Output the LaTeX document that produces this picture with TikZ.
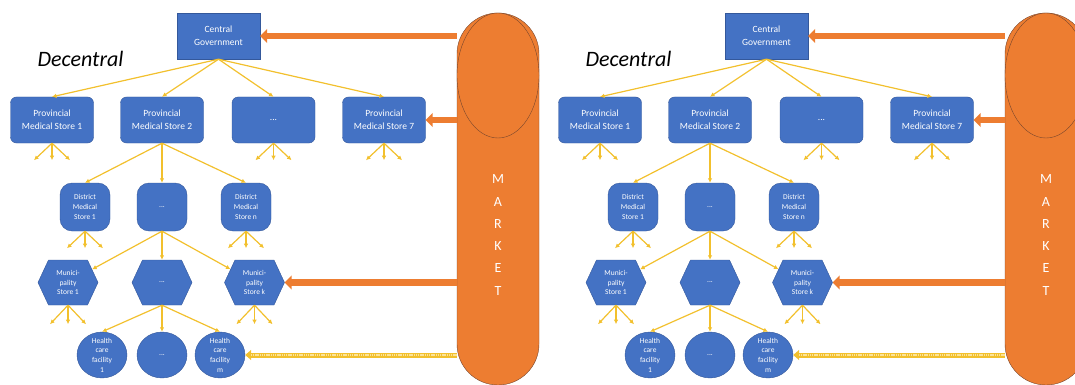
\documentclass[tikz,border=0pt]{standalone}
\usepackage{fontspec}
\setmainfont{Carlito}
\usetikzlibrary{shapes.geometric,shapes.symbols,arrows.meta}

\definecolor{bleu}{RGB}{68,114,196}
\definecolor{bleubord}{RGB}{52,88,155}
\definecolor{mktorange}{RGB}{237,125,49}
\definecolor{mktedge}{RGB}{120,70,45}
\definecolor{linkgold}{RGB}{242,192,45}
\definecolor{supplylight}{RGB}{252,226,150}

% three short arrows under a node
\newcommand{\fanout}[2]{%
  \foreach \a/\i in {-18/1,0/2,18/3}{%
    \path (#1.south) ++(\a,#2) coordinate (#1f\i);
    \draw[link] (#1.south) -- (#1f\i);
  }}

\begin{document}
\begin{tikzpicture}[x=1pt,y=-1pt]
      \tikzstyle{blok}=[draw=bleubord, line width=0.4pt, fill=bleu, text=white, align=center, inner sep=1pt]
      \tikzstyle{prov}=[blok, rounded corners=6pt, minimum width=83pt, minimum height=46pt, font=\fontsize{9.5}{12.6}\selectfont]
      \tikzstyle{dist}=[blok, rounded corners=12pt, minimum width=50pt, minimum height=48pt, font=\fontsize{7.5}{9.8}\selectfont]
      \tikzstyle{muni}=[blok, signal, signal to=east and west, signal pointer angle=130, minimum width=60pt, minimum height=45pt, font=\fontsize{7.5}{9.6}\selectfont]
      \tikzstyle{soin}=[blok, ellipse, minimum width=50pt, minimum height=46pt, inner sep=-2pt, font=\fontsize{7.5}{9.6}\selectfont]
      \tikzstyle{link}=[draw=linkgold, line width=1.2pt, -{Latex[length=4.5pt,width=4.5pt]}]
      \tikzstyle{mktarrow}=[draw=mktorange, line width=6.5pt, -{Triangle[length=7pt,width=14pt]}]
      \tikzstyle{supply}=[draw=linkgold, line width=5pt, -{Triangle[length=6pt,width=10pt]},
        postaction={draw=supplylight, line width=2.4pt, dash pattern=on 1.4pt off 0.8pt, -, shorten >=6pt}]

      \useasboundingbox (0,0) rectangle (1075,385);
      \clip (0,0) rectangle (1075,385);

      \foreach \dx/\p in {0/a,548/b}{
      \begin{scope}[xshift=\dx pt]
      \node[draw=mktedge, fill=mktorange, rounded corners=41pt, minimum width=82pt, minimum height=372pt, inner sep=0pt] (MKT\p) at (498,199) {};
      \node[draw=mktedge, fill=mktorange, ellipse, minimum width=82pt, minimum height=125pt, inner sep=0pt] (MKTtop\p) at (498,75.5) {};
      \node[text=white, align=center, font=\fontsize{14}{22.3}\selectfont] (MKTtxt\p) at (498,235) {M\\A\\R\\K\\E\\T};

      \node[anchor=base west, font=\fontsize{22}{25}\selectfont\itshape] (DEC\p) at (34,67) {Decentral};
      \node[blok, minimum width=83pt, minimum height=46pt, font=\fontsize{9.5}{12.6}\selectfont] (CG\p) at (218.5,36) {Central\\Government};

      \node[prov] (PMS1\p) at (52,120) {Provincial\\Medical Store 1};
      \node[prov] (PMS2\p) at (162,120) {Provincial\\Medical Store 2};
      \node[prov] (PMSx\p) at (273.5,120) {...};
      \node[prov] (PMS7\p) at (384,120) {Provincial\\Medical Store 7};

      \node[dist] (DMS1\p) at (85,207) {District\\Medical\\Store 1};
      \node[dist] (DMSx\p) at (162,207) {...};
      \node[dist] (DMSn\p) at (246,207) {District\\Medical\\Store n};

      \node[muni] (MS1\p) at (68,282.5) {Munici-\\pality\\Store 1};
      \node[muni] (MSx\p) at (162,282.5) {...};
      \node[muni] (MSk\p) at (254.5,282.5) {Munici-\\pality\\Store k};

      \node[soin] (HCF1\p) at (102,355) {Health\\care\\facility\\1};
      \node[soin] (HCFx\p) at (162,355) {...};
      \node[soin] (HCFm\p) at (220,355) {Health\\care\\facility\\m};

      \draw[link] (CG\p.south) -- (PMS1\p.north);
      \draw[link] (CG\p.south) -- (PMS2\p.north);
      \draw[link] (CG\p.south) -- (PMSx\p.north);
      \draw[link] (CG\p.south) -- (PMS7\p.north);
      \draw[link] (PMS2\p.south) -- (DMS1\p.north);
      \draw[link] (PMS2\p.south) -- (DMSx\p.north);
      \draw[link] (PMS2\p.south) -- (DMSn\p.north);
      \draw[link] (DMSx\p.south) -- (MS1\p);
      \draw[link] (DMSx\p.south) -- (MSx\p.north);
      \draw[link] (DMSx\p.south) -- (MSk\p);
      \draw[link] (MSx\p.south) -- (HCF1\p.north);
      \draw[link] (MSx\p.south) -- (HCFx\p.north);
      \draw[link] (MSx\p.south) -- (HCFm\p.north);

      \fanout{PMS1\p}{17}
      \fanout{PMSx\p}{17}
      \fanout{PMS7\p}{17}
      \fanout{DMS1\p}{17}
      \fanout{DMSn\p}{17}
      \fanout{MS1\p}{19}
      \fanout{MSk\p}{19}

      \draw[mktarrow] (MKT\p.west |- CG\p.east) -- (CG\p.east);
      \draw[mktarrow] (MKT\p.west |- PMS7\p.east) -- (PMS7\p.east);
      \draw[mktarrow] (MKT\p.west |- MSk\p.east) -- (MSk\p.east);
      \draw[supply] (MKT\p.west |- HCFm\p.east) -- (HCFm\p.east);
      \end{scope}
      }
\end{tikzpicture}
\end{document}
